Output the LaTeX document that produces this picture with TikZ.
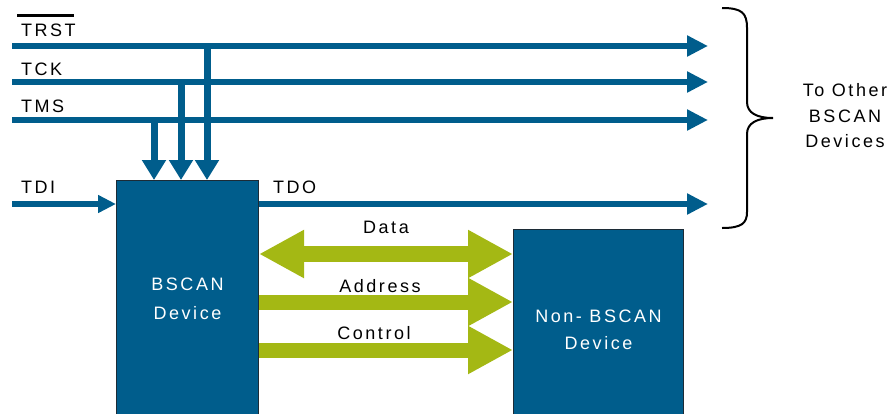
\documentclass[tikz,border=0pt]{standalone}
\usepackage{fontspec}
\setmainfont{Liberation Sans}[LetterSpace=14]
\usetikzlibrary{arrows.meta,positioning}
\definecolor{jtagBlue}{HTML}{005D8C}
\definecolor{busGreen}{HTML}{A4B814}
\definecolor{boxEdge}{HTML}{1C2B36}
\newcommand{\barred}[1]{\setbox0=\hbox{#1}\rlap{\kern-4pt\rule[19pt]{\dimexpr\wd0+2pt\relax}{3pt}}\box0}

\begin{document}
\begin{tikzpicture}[x=1pt, y=-1pt,
    every node/.style={font=\fontsize{18}{20}\selectfont, inner sep=0pt},
    device/.style={draw=boxEdge, line width=1pt, fill=jtagBlue, text=white, anchor=north west,
      align=center, font=\fontsize{18}{29}\selectfont},
    pin/.style={anchor=base west},
    buslabel/.style={anchor=base},
    sigline/.style={jtagBlue, line width=6pt, -{Triangle[length=21pt, width=20pt]}},
    sigdrop/.style={jtagBlue, line width=7pt, -{Triangle[length=20pt, width=23pt]}},
    tdiline/.style={jtagBlue, line width=6pt, -{Triangle[length=18pt, width=17pt]}},
    bus/.style={busGreen, line width=15pt, -{Triangle[length=45pt, width=45pt]}},
    bothbus/.style={busGreen, line width=16pt,
      {Triangle[length=45pt, width=45pt]}-{Triangle[length=45pt, width=45pt]}},
  ]
  \useasboundingbox (0,0) rectangle (888,413);

  % Devices
  \node[device, minimum width=142pt, minimum height=236pt] (bscan) at (116,180) {BSCAN\\Device};
  \node[device, minimum width=170pt, minimum height=200pt, font=\fontsize{18}{27}\selectfont]
    (nbscan) at (513,229) {Non- BSCAN\\Device};

  % Signal ends
  \coordinate (trstL) at (12,46);   \coordinate (trstR) at (708,46);
  \coordinate (tckL) at (12,82);    \coordinate (tckR) at (708,82);
  \coordinate (tmsL) at (12,120);   \coordinate (tmsR) at (708,120);
  \coordinate (tdiL) at (12,204);   \coordinate (tdoR) at (708,204);
  \coordinate (trstTap) at (207,46);
  \coordinate (tckTap) at (181,82);
  \coordinate (tmsTap) at (154,120);

  % Signal lines
  \draw[sigline] (trstL) -- (trstR);
  \draw[sigline] (tckL) -- (tckR);
  \draw[sigline] (tmsL) -- (tmsR);
  \draw[sigdrop] (trstTap) -- (trstTap |- bscan.north);
  \draw[sigdrop] (tckTap) -- (tckTap |- bscan.north);
  \draw[sigdrop] (tmsTap) -- (tmsTap |- bscan.north);
  \draw[tdiline] (tdiL) -- (tdiL -| bscan.west);
  \draw[sigline] (tdoR -| bscan.east) -- (tdoR);

  \node[pin] (trstlbl) at (21,36) {\barred{TRST}};
  \node[pin] (tcklbl) at (21,75) {TCK};
  \node[pin] (tmslbl) at (21,112) {TMS};
  \node[pin] (tdilbl) at (21,193) {TDI};
  \node[pin] (tdolbl) at (273,193) {TDO};

  % Buses
  \coordinate (dataY) at (0,254);
  \coordinate (addrY) at (0,302);
  \coordinate (ctrlY) at (0,350);
  \draw[bothbus] (bscan.east |- dataY) -- (nbscan.west |- dataY);
  \draw[bus] (bscan.east |- addrY) -- (nbscan.west |- addrY);
  \draw[bus] (bscan.east |- ctrlY) -- (nbscan.west |- ctrlY);
  \node[buslabel] (datalbl) at (386,233) {Data};
  \node[buslabel] (addrlbl) at (380,292) {Address};
  \node[buslabel] (ctrllbl) at (374,339) {Control};

  % To other devices
  \draw[line width=2pt] (722,8) .. controls (742,8) and (747,13) .. (747,28)
    -- (747,102) .. controls (747,113) and (757,118) .. (773,118)
    .. controls (757,118) and (747,123) .. (747,134)
    -- (747,212) .. controls (747,223) and (742,228) .. (722,228);
  \node[align=center, font=\fontsize{18}{25.5}\selectfont] (others) at (845,116) {To Other\\BSCAN\\Devices};
\end{tikzpicture}
\end{document}
